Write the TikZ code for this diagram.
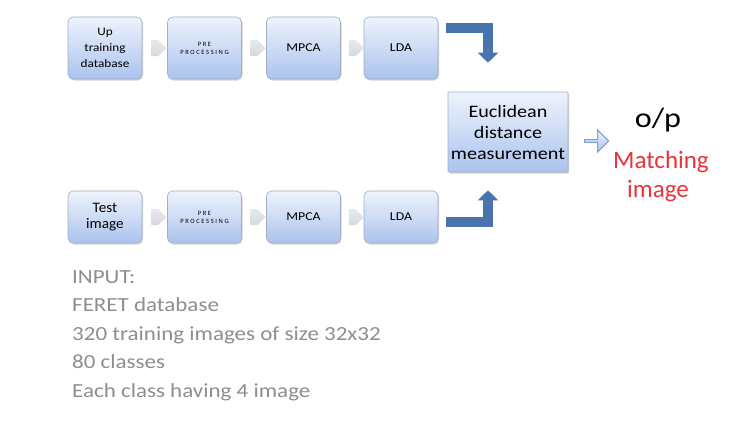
\documentclass[tikz,border=0pt]{standalone}
\usepackage{fontspec}
\setmainfont{Carlito}
\usetikzlibrary{shapes.arrows,arrows.meta,shadows,calc}
\definecolor{boxtop}{HTML}{EEF3FC}
\definecolor{boxbot}{HTML}{ABC3EE}
\definecolor{boxline}{HTML}{A3AEC4}
\definecolor{bentblue}{HTML}{4A74AE}
\definecolor{chev}{HTML}{D6DAE0}
\definecolor{inputgray}{HTML}{8E8E8E}
\definecolor{matchred}{HTML}{E8343A}
\definecolor{outline}{HTML}{7C9FD4}
\begin{document}
\begin{tikzpicture}[x=1pt,y=-1pt,
  stagebox/.style={draw=boxline, line width=0.6pt, rounded corners=5pt,
    top color=boxtop, bottom color=boxbot, minimum width=74pt,
    align=center, inner sep=1pt,
    drop shadow={shadow xshift=1pt, shadow yshift=-1.5pt, opacity=0.35, fill=gray}},
  toprow/.style={stagebox, minimum height=62pt},
  botrow/.style={stagebox, minimum height=52pt},
  chevron/.style={single arrow, top color=chev!60, bottom color=chev, draw=none, minimum width=16pt,
    minimum height=15pt, single arrow head extend=0pt, inner sep=0pt},
  bent/.style={draw=bentblue, line width=10pt,
    -{Triangle[length=10pt,width=20pt]}},
  tiny/.style={font=\fontsize{6.5}{8}\selectfont\addfontfeature{LetterSpace=25}},
  mid/.style={font=\fontsize{12}{13}\selectfont\addfontfeature{FakeStretch=1.15}},
  info/.style={anchor=base west, text=inputgray,
    font=\fontsize{20}{22}\selectfont\addfontfeature{FakeStretch=1.15}, inner sep=0pt}
]
\useasboundingbox[fill=white] (0,0) rectangle (735,424);

% top row
\node[toprow, font=\fontsize{11.5}{16}\selectfont\addfontfeature{FakeStretch=1.15}] (up) at (105,48) {Up\\training\\database};
\node[toprow, tiny] (pre1) at (204.5,48) {PRE\\PROCESSING};
\node[toprow, mid] (mpca1) at (303.5,48) {MPCA};
\node[toprow, mid] (lda1) at (401,48) {LDA};

% bottom row
\node[botrow, font=\fontsize{14.5}{16}\selectfont\addfontfeature{FakeStretch=1.05}] (test) at (105,217) {Test\\image};
\node[botrow, tiny] (pre2) at (204.5,217) {PRE\\PROCESSING};
\node[botrow, mid] (mpca2) at (303.5,217) {MPCA};
\node[botrow, mid] (lda2) at (401,217) {LDA};

% euclidean
\node[stagebox, rounded corners=1pt, minimum width=120pt, minimum height=80pt,
  font=\fontsize{17.5}{21}\selectfont\addfontfeature{FakeStretch=1.15}] (euc) at (508,132) {Euclidean\\distance\\measurement};

% chevrons
\node[chevron] (c1) at ($(up.east)!0.5!(pre1.west)$) {};
\node[chevron] (c2) at ($(pre1.east)!0.5!(mpca1.west)$) {};
\node[chevron] (c3) at ($(mpca1.east)!0.5!(lda1.west)$) {};
\node[chevron] (c4) at ($(test.east)!0.5!(pre2.west)$) {};
\node[chevron] (c5) at ($(pre2.east)!0.5!(mpca2.west)$) {};
\node[chevron] (c6) at ($(mpca2.east)!0.5!(lda2.west)$) {};

% bent arrows
\coordinate (t0) at ($(lda1.east)+(8,-20)$);
\coordinate (t1) at ($(euc.north)+(-20,-29)$);
\draw[bent] (t0) -| (t1);
\coordinate (b0) at ($(lda2.east)+(8,5)$);
\coordinate (b1) at ($(euc.south)+(-20,18)$);
\draw[bent] (b0) -| (b1);

% output arrow
\node[single arrow, draw=outline, top color=boxtop, bottom color=boxbot, line width=1pt,
  minimum width=22pt, minimum height=24pt, single arrow head extend=3.5pt,
  inner sep=0pt] (outarr) at (596,141) {};

\node[anchor=base, font=\fontsize{28}{30}\selectfont\addfontfeature{FakeStretch=1.15}, inner sep=0pt] (op) at (658,127) {o/p};
\node[anchor=base, font=\fontsize{25}{28}\selectfont, text=matchred, inner sep=0pt] (match) at (661,168) {Matching};
\node[anchor=base, font=\fontsize{25}{28}\selectfont, text=matchred, inner sep=0pt] (img) at (658,197) {image};

% input text
\node[info] (i1) at (72,283) {INPUT:};
\node[info] (i2) at (72,311.5) {FERET database};
\node[info] (i3) at (72,340) {320 training images of size 32x32};
\node[info] (i4) at (72,368.5) {80 classes};
\node[info] (i5) at (72,397) {Each class having 4 image};
\end{tikzpicture}
\end{document}
